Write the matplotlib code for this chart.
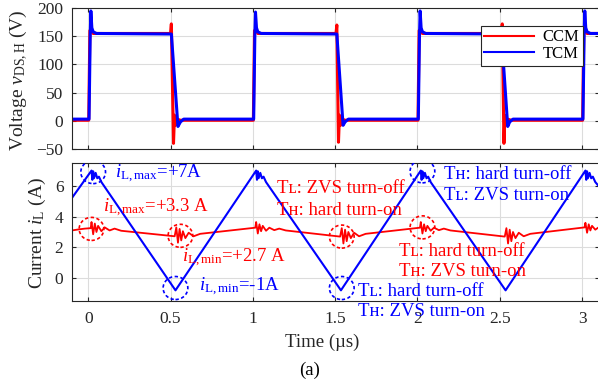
import numpy as np
import matplotlib
matplotlib.use('Agg')
import matplotlib.pyplot as plt
from matplotlib.patches import Ellipse
from matplotlib.lines import Line2D

# ============================
# DATOS
# ============================

# Tension v_DS,H en modo TCM (azul)
t_v_tcm = [-0.10, 0.005, 0.012, 0.016, 0.022, 0.03, 0.05, 0.505, 0.545, 0.56, 0.58,
           1.005, 1.012, 1.016, 1.022, 1.03, 1.05, 1.51, 1.548, 1.56, 1.58,
           2.005, 2.012, 2.016, 2.022, 2.03, 2.05, 2.51, 2.548, 2.56, 2.58,
           3.005, 3.012, 3.016, 3.022, 3.03, 3.05, 3.10]
v_tcm = [3, 3, 150, 195, 165, 158, 155, 154, -10, -2, 3,
         3, 150, 193, 165, 158, 155, 154, -8, -2, 3,
         3, 150, 195, 165, 158, 155, 154, -10, -2, 3,
         3, 150, 195, 165, 158, 155, 155]

# Tension v_DS,H en modo CCM (rojo)
t_v_ccm = [-0.10, 0.003, 0.010, 0.018, 0.03, 0.500, 0.505, 0.518, 0.524, 0.530, 0.540, 0.56,
           1.003, 1.010, 1.018, 1.03, 1.505, 1.510, 1.520, 1.526, 1.532, 1.542, 1.56,
           2.003, 2.010, 2.018, 2.03, 2.510, 2.515, 2.525, 2.531, 2.537, 2.547, 2.57,
           3.003, 3.010, 3.018, 3.03, 3.10]
v_ccm = [1, 1, 160, 162, 155, 155, 172, -40, 10, -8, 3, 1,
         1, 160, 162, 155, 155, 170, -38, 10, -8, 3, 1,
         1, 160, 162, 155, 155, 172, -40, 10, -8, 3, 1,
         1, 160, 162, 155, 155]

# Corriente i_L en modo TCM (azul)
t_i_tcm = [-0.10, 0.02, 0.025, 0.03, 0.035, 0.045, 0.055, 0.065, 0.08, 0.53,
           1.02, 1.025, 1.03, 1.035, 1.045, 1.055, 1.065, 1.08, 1.535,
           2.02, 2.025, 2.03, 2.035, 2.045, 2.055, 2.065, 2.08, 2.535,
           3.02, 3.025, 3.03, 3.035, 3.045, 3.055, 3.065, 3.08, 3.10]
i_tcm = [5.2, 7.0, 6.4, 6.95, 6.5, 6.85, 6.5, 6.6, 6.25, -0.8,
         7.0, 6.4, 6.95, 6.5, 6.85, 6.5, 6.6, 6.25, -0.8,
         7.0, 6.4, 6.95, 6.5, 6.85, 6.5, 6.6, 6.25, -0.8,
         7.0, 6.4, 6.95, 6.5, 6.85, 6.5, 6.6, 6.25, 6.0]

# Corriente i_L en modo CCM (rojo)
t_i_ccm = [-0.10, -0.05, -0.02, 0.015, 0.02, 0.03, 0.04, 0.05, 0.06, 0.08, 0.10, 0.13, 0.16, 0.20,
           0.525, 0.535, 0.545, 0.555, 0.565, 0.575, 0.59, 0.61, 0.64, 0.68,
           1.015, 1.02, 1.03, 1.04, 1.05, 1.06, 1.08, 1.10, 1.13, 1.16, 1.20,
           1.53, 1.54, 1.55, 1.56, 1.57, 1.58, 1.595, 1.615, 1.645, 1.685,
           2.015, 2.02, 2.03, 2.04, 2.05, 2.06, 2.08, 2.10, 2.13, 2.16, 2.20,
           2.53, 2.54, 2.55, 2.56, 2.57, 2.58, 2.595, 2.615, 2.645, 2.685,
           3.015, 3.02, 3.03, 3.04, 3.05, 3.06, 3.08, 3.10]
i_ccm = [3.10, 3.18, 3.22, 3.25, 3.65, 2.85, 3.55, 3.00, 3.40, 3.05, 3.30, 3.10, 3.22, 3.08,
         2.72, 3.30, 2.30, 3.20, 2.45, 3.05, 2.60, 2.95, 2.72, 2.88,
         3.28, 3.65, 2.90, 3.50, 3.05, 3.40, 3.08, 3.28, 3.12, 3.22, 3.10,
         2.70, 3.25, 2.25, 3.15, 2.40, 3.00, 2.60, 2.95, 2.72, 2.88,
         3.28, 3.65, 2.90, 3.50, 3.05, 3.40, 3.08, 3.28, 3.12, 3.22, 3.10,
         2.70, 3.25, 2.25, 3.15, 2.40, 3.00, 2.60, 2.95, 2.72, 2.88,
         3.30, 3.60, 2.95, 3.50, 3.10, 3.40, 3.15, 3.30]

x_ticks = [0, 0.5, 1, 1.5, 2, 2.5, 3]
x_ticklabels = ['0', '0.5', '1', '1.5', '2', '2.5', '3']

# ============================
# ESTILO
# ============================
plt.rcParams['font.family'] = ['Liberation Serif', 'DejaVu Serif']
plt.rcParams['mathtext.fontset'] = 'custom'
plt.rcParams['mathtext.rm'] = 'Liberation Serif'
plt.rcParams['mathtext.it'] = 'Liberation Serif:italic'

RED = '#ff0000'
BLUE = '#0000ff'

fig = plt.figure(figsize=(5.98, 3.86), dpi=100)
ax1 = fig.add_axes([0.120, 0.614, 0.881, 0.365])
ax2 = fig.add_axes([0.120, 0.220, 0.881, 0.358])

for ax in (ax1, ax2):
    ax.set_xlim(-0.1, 3.1)
    ax.set_xticks(x_ticks)
    ax.grid(True, color='#dcdcdc', lw=0.8)
    ax.set_axisbelow(True)
    ax.tick_params(direction='in', top=True, right=True, length=3,
                   labelsize=12.5, colors='#262626', pad=6)
    for s in ax.spines.values():
        s.set_color('#262626')
        s.set_linewidth(0.8)

# ============================
# TENSION
# ============================
ax1.plot(t_v_ccm, v_ccm, color=RED, lw=2.2)
ax1.plot(t_v_tcm, v_tcm, color=BLUE, lw=2.2)
ax1.set_ylim(-50, 200)
ax1.set_yticks([-50, 0, 50, 100, 150, 200])
ax1.set_xticklabels([])

handles = [Line2D([], [], color=RED, lw=1.5), Line2D([], [], color=BLUE, lw=1.5)]
leg = ax1.legend(handles, ['CCM', 'TCM'], loc='upper right',
                 bbox_to_anchor=(0.970, 0.872), fontsize=12, fancybox=False,
                 framealpha=1, edgecolor='#262626', handlelength=3.0,
                 borderpad=0.2, labelspacing=0.05, handletextpad=0.5,
                 borderaxespad=0)
leg.get_frame().set_linewidth(0.8)

# ============================
# CORRIENTE
# ============================
ax2.plot(t_i_ccm, i_ccm, color=RED, lw=1.3)
ax2.plot(t_i_tcm, i_tcm, color=BLUE, lw=1.5)
ax2.set_ylim(-1.5, 7.5)
ax2.set_yticks([0, 2, 4, 6])
ax2.set_xticklabels(x_ticklabels)
ax2.tick_params(axis='x', pad=7)

# circulos punteados
circles = [(0.03, 6.9, BLUE), (0.53, -0.65, BLUE), (1.54, -0.65, BLUE), (2.03, 6.95, BLUE),
           (0.02, 3.2, RED), (0.56, 2.75, RED), (1.54, 2.7, RED), (2.03, 3.3, RED)]
for cx, cy, c in circles:
    ax2.add_patch(Ellipse((cx, cy), 0.15, 1.5, fill=False, edgecolor=c,
                          lw=1.2, ls=(0, (2, 1.5)), zorder=5))

fs = 13.5
ax2.text(0.16, 6.8, r'$i_{\rm L,max}$=+7A', color=BLUE, fontsize=fs, va='center')
ax2.text(0.09, 4.55, r'$i_{\rm L,max}$=+3.3 A', color=RED, fontsize=fs, va='center')
ax2.text(0.57, 1.3, r'$i_{\rm L,min}$=+2.7 A', color=RED, fontsize=fs, va='center')
ax2.text(0.67, -0.6, r'$i_{\rm L,min}$=-1A', color=BLUE, fontsize=fs, va='center')

ax2.text(1.145, 5.85, 'Tʟ: ZVS turn-off', color=RED, fontsize=fs, va='center')
ax2.text(1.145, 4.4, 'Tʜ: hard turn-on', color=RED, fontsize=fs, va='center')
ax2.text(2.16, 6.75, 'Tʜ: hard turn-off', color=BLUE, fontsize=fs, va='center')
ax2.text(2.16, 5.4, 'Tʟ: ZVS turn-on', color=BLUE, fontsize=fs, va='center')
ax2.text(1.885, 1.75, 'Tʟ: hard turn-off', color=RED, fontsize=fs, va='center')
ax2.text(1.885, 0.4, 'Tʜ: ZVS turn-on', color=RED, fontsize=fs, va='center')
ax2.text(1.64, -0.85, 'Tʟ: hard turn-off', color=BLUE, fontsize=fs, va='center')
ax2.text(1.64, -2.2, 'Tʜ: ZVS turn-on', color=BLUE, fontsize=fs, va='center', clip_on=False)

# ============================
# ETIQUETAS
# ============================
fig.text(19 / 598, 1 - 80 / 386, r'Voltage $v_{\rm DS,H}$ (V)', rotation=90,
         ha='center', va='center', fontsize=14, color='#262626')
fig.text(37 / 598, 1 - 233 / 386, r'Current $i_{\rm L}$ (A)', rotation=90,
         ha='center', va='center', fontsize=14, color='#262626')
fig.text(322 / 598, 1 - 342 / 386, 'Time (µs)', ha='center', va='center',
         fontsize=13.5, color='#262626')
fig.text(310 / 598, 1 - 370 / 386, '(a)', ha='center', va='center',
         fontsize=13.5, color='black')

fig.savefig('out.png', dpi=100)
